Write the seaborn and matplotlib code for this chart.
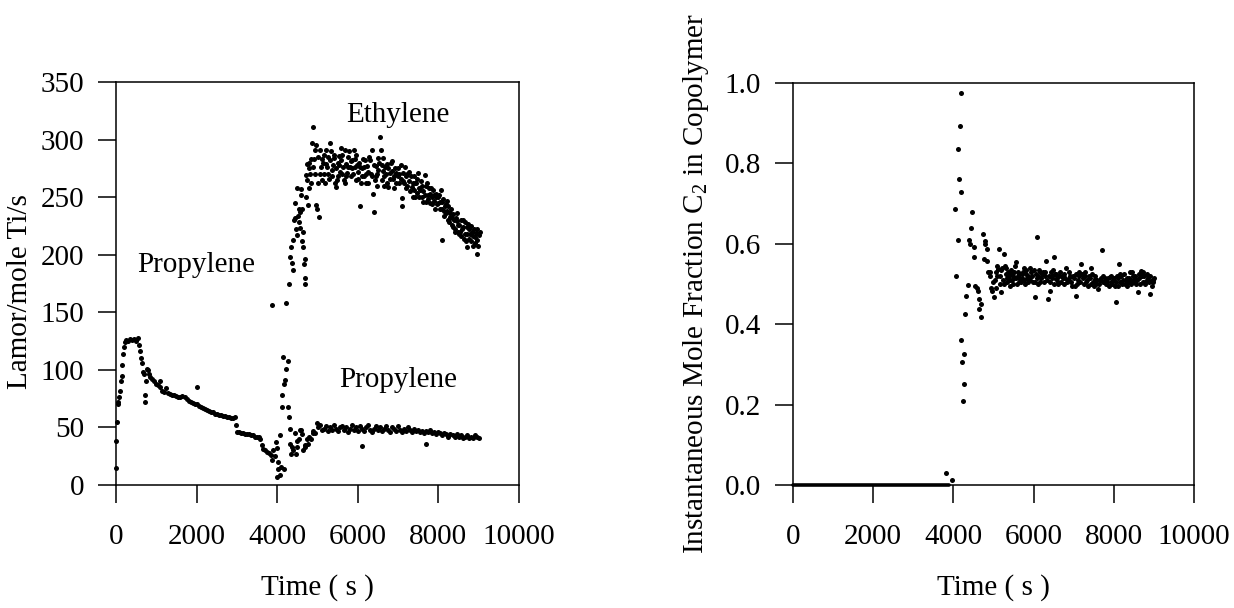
import matplotlib
matplotlib.use("Agg")
import matplotlib.pyplot as plt
import seaborn as sns
import pandas as pd

# ---------------- data ----------------
# Left panel: rate (L/mol/mole Ti/s) vs time (s)
propylene_pts = [
    (0, 15), (0, 38), (20, 55), (40, 70), (60, 72), (80, 76), (100, 82), (120, 90),
    (140, 95), (160, 104), (180, 114), (200, 120), (220, 124), (250, 126), (300, 125),
    (350, 127), (400, 126), (450, 127), (500, 125), (550, 128), (580, 122), (600, 116),
    (620, 110), (650, 106), (680, 98), (700, 96), (720, 78), (730, 72), (750, 90),
    (780, 101), (800, 100), (830, 96), (850, 94), (900, 92), (950, 90), (1000, 88),
    (1050, 87), (1080, 90), (1100, 85), (1150, 82), (1200, 81), (1250, 84), (1300, 80),
    (1350, 79), (1400, 78), (1450, 78), (1500, 77), (1550, 76), (1600, 76), (1650, 77),
    (1700, 76), (1750, 75), (1800, 73), (1850, 72), (1900, 71), (1950, 70), (2000, 85),
    (2000, 70), (2050, 69), (2100, 68), (2150, 67), (2200, 66), (2250, 65), (2300, 64),
    (2350, 63), (2400, 63), (2450, 62), (2500, 62), (2550, 61), (2600, 61), (2650, 60),
    (2700, 60), (2750, 59), (2800, 59), (2850, 58), (2900, 58), (2950, 59), (2980, 52),
    (3000, 46), (3050, 46), (3100, 45), (3150, 45), (3200, 44), (3250, 44), (3300, 44),
    (3350, 43), (3400, 43), (3450, 42), (3500, 42), (3550, 42), (3580, 40), (3620, 35),
    (3650, 31), (3700, 30), (3750, 29), (3800, 28), (3850, 26), (3880, 22),
    (3900, 30), (3950, 25), (3980, 37), (3990, 7), (4000, 32), (4020, 14), (4030, 20),
    (4060, 43), (4080, 9), (4100, 16), (4110, 78), (4120, 68), (4150, 111), (4160, 14),
    (4180, 88), (4200, 91), (4230, 101), (4260, 108), (4280, 68), (4300, 59), (4310, 49),
    (4320, 36), (4350, 27), (4370, 33), (4400, 30), (4430, 45), (4460, 27), (4480, 38),
    (4500, 33), (4530, 40), (4560, 48), (4600, 48), (4620, 44), (4650, 30), (4680, 35),
    (4700, 33), (4730, 40), (4760, 36), (4800, 42), (4850, 40), (4880, 45), (4900, 47),
    (4950, 45), (4980, 54), (5000, 50), (5050, 52), (5100, 48), (5150, 49), (5200, 51),
    (5250, 47), (5300, 50), (5350, 48), (5400, 52), (5450, 49), (5500, 47), (5550, 50),
    (5600, 51), (5650, 48), (5700, 50), (5750, 46), (5800, 49), (5850, 52), (5900, 48),
    (5950, 50), (6000, 47), (6050, 51), (6100, 49), (6100, 34), (6150, 47), (6200, 50),
    (6250, 52), (6300, 48), (6350, 46), (6400, 49), (6450, 51), (6500, 48), (6550, 50),
    (6600, 47), (6650, 49), (6700, 51), (6750, 48), (6800, 46), (6850, 50), (6900, 49),
    (6950, 47), (7000, 51), (7050, 48), (7100, 46), (7150, 49), (7200, 47), (7250, 50),
    (7300, 48), (7350, 46), (7400, 49), (7450, 47), (7500, 48), (7550, 46), (7600, 47),
    (7650, 45), (7700, 47), (7700, 36), (7750, 46), (7800, 48), (7850, 45), (7900, 46),
    (7950, 44), (8000, 46), (8050, 45), (8100, 43), (8150, 45), (8200, 44), (8250, 42),
    (8300, 44), (8350, 43), (8400, 42), (8450, 44), (8500, 42), (8550, 43), (8600, 41),
    (8650, 42), (8700, 43), (8750, 41), (8800, 42), (8850, 41), (8900, 43), (8950, 42),
    (9000, 41),
]

ethylene_pts = [
    (3860, 156), (4230, 158), (4300, 175), (4330, 198), (4350, 207), (4360, 193),
    (4380, 187), (4400, 213), (4420, 230), (4440, 232), (4450, 245), (4470, 222),
    (4490, 258), (4500, 217), (4520, 234), (4530, 228), (4540, 240), (4560, 223),
    (4570, 237), (4580, 252), (4600, 257), (4610, 240), (4620, 212), (4640, 207),
    (4650, 220), (4660, 192), (4680, 180), (4690, 196), (4700, 175), (4710, 250),
    (4720, 269), (4740, 279), (4750, 265), (4760, 243), (4780, 258), (4790, 280),
    (4800, 275), (4820, 270), (4830, 283), (4850, 262), (4860, 297), (4880, 276),
    (4900, 311), (4920, 283), (4930, 291), (4950, 270), (4960, 243), (4970, 295),
    (4980, 240), (5000, 285), (5010, 262), (5030, 233), (5050, 291), (5060, 270),
    (5080, 276), (5100, 265), (5110, 283), (5130, 280), (5150, 270), (5160, 287),
    (5180, 262), (5200, 291), (5210, 279), (5230, 276), (5250, 285), (5260, 270),
    (5280, 266), (5300, 297), (5320, 282), (5330, 290), (5350, 274), (5370, 268),
    (5380, 278), (5400, 284), (5420, 287), (5430, 262), (5450, 275), (5460, 259),
    (5480, 265), (5500, 280), (5510, 268), (5530, 286), (5540, 278), (5560, 272),
    (5580, 282), (5590, 293), (5610, 287), (5620, 270), (5640, 276), (5650, 265),
    (5670, 262), (5680, 291), (5700, 279), (5710, 268), (5730, 271), (5750, 276),
    (5760, 285), (5780, 290), (5800, 276), (5820, 281), (5830, 268), (5850, 275),
    (5860, 282), (5880, 270), (5900, 291), (5920, 283), (5930, 276), (5950, 287),
    (5960, 265), (5980, 278), (6000, 272), (6010, 266), (6030, 280), (6050, 276),
    (6060, 242), (6080, 262), (6100, 275), (6110, 268), (6130, 283), (6150, 276),
    (6160, 268), (6180, 282), (6200, 270), (6210, 262), (6230, 277), (6250, 272),
    (6260, 262), (6280, 285), (6300, 282), (6320, 270), (6340, 291), (6360, 268),
    (6380, 253), (6390, 237), (6410, 278), (6420, 265), (6440, 268), (6450, 277),
    (6470, 260), (6480, 270), (6500, 274), (6510, 284), (6530, 280), (6550, 302),
    (6570, 291), (6590, 278), (6600, 265), (6620, 284), (6630, 273), (6650, 268),
    (6660, 260), (6680, 276), (6700, 270), (6720, 262), (6730, 279), (6750, 275),
    (6760, 259), (6790, 266), (6800, 271), (6820, 280), (6840, 281), (6860, 273),
    (6870, 266), (6890, 268), (6900, 258), (6930, 275), (6950, 262), (6960, 271),
    (6990, 275), (7000, 268), (7020, 270), (7030, 262), (7060, 278), (7080, 266),
    (7090, 249), (7100, 242), (7120, 271), (7130, 264), (7150, 262), (7170, 276),
    (7190, 258), (7200, 268), (7220, 270), (7230, 260), (7260, 272), (7280, 264),
    (7300, 255), (7320, 268), (7340, 259), (7360, 262), (7370, 250), (7390, 256),
    (7400, 268), (7420, 250), (7430, 262), (7450, 262), (7460, 254), (7480, 266),
    (7500, 271), (7520, 250), (7530, 258), (7550, 256), (7560, 264), (7590, 260),
    (7600, 250), (7620, 246), (7630, 255), (7660, 252), (7670, 269), (7690, 246),
    (7700, 260), (7720, 262), (7730, 252), (7750, 248), (7760, 258), (7790, 253),
    (7800, 245), (7820, 258), (7830, 250), (7850, 244), (7870, 256), (7890, 252),
    (7900, 247), (7920, 240), (7930, 253), (7950, 250), (7960, 244), (7990, 245),
    (8000, 250), (8020, 252), (8030, 240), (8050, 246), (8060, 256), (8080, 213),
    (8090, 240), (8100, 246), (8120, 248), (8130, 238), (8150, 234), (8160, 242),
    (8180, 244), (8190, 236), (8210, 238), (8220, 247), (8240, 242), (8250, 230),
    (8270, 228), (8280, 233), (8300, 236), (8310, 240), (8330, 232), (8340, 226),
    (8360, 224), (8370, 235), (8390, 230), (8400, 222), (8420, 220), (8430, 232),
    (8450, 229), (8460, 236), (8480, 220), (8490, 226), (8510, 226), (8520, 218),
    (8540, 220), (8550, 230), (8570, 216), (8580, 222), (8600, 224), (8620, 230),
    (8630, 214), (8650, 218), (8660, 228), (8680, 212), (8700, 207), (8710, 224),
    (8720, 218), (8740, 227), (8750, 214), (8770, 222), (8780, 218), (8800, 212),
    (8810, 225), (8830, 220), (8850, 208), (8860, 216), (8880, 222), (8900, 215),
    (8920, 210), (8930, 219), (8950, 201), (8960, 222), (8970, 213), (8990, 208),
    (9000, 217), (9030, 220),
]

# Right panel: instantaneous mole fraction C2 in copolymer vs time (s)
c2_baseline = [
    (0, 0.0), (100, 0.0), (200, 0.0), (300, 0.0), (400, 0.0), (500, 0.0), (600, 0.0),
    (700, 0.0), (800, 0.0), (900, 0.0), (1000, 0.0), (1100, 0.0), (1200, 0.0),
    (1300, 0.0), (1400, 0.0), (1500, 0.0), (1600, 0.0), (1700, 0.0), (1800, 0.0),
    (1900, 0.0), (2000, 0.0), (2100, 0.0), (2200, 0.0), (2300, 0.0), (2400, 0.0),
    (2500, 0.0), (2600, 0.0), (2700, 0.0), (2800, 0.0), (2900, 0.0), (3000, 0.0),
    (3100, 0.0), (3200, 0.0), (3300, 0.0), (3400, 0.0), (3500, 0.0), (3600, 0.0),
    (3700, 0.0), (3800, 0.0), (3900, 0.0),
]

c2_pts = [
    (3810, 0.029), (3965, 0.012), (4030, 0.686), (4057, 0.521), (4115, 0.835),
    (4115, 0.610), (4140, 0.762), (4157, 0.893), (4181, 0.974), (4181, 0.729),
    (4198, 0.360), (4215, 0.306), (4240, 0.209), (4256, 0.252), (4265, 0.326),
    (4298, 0.426), (4323, 0.471), (4364, 0.498), (4389, 0.610), (4422, 0.599),
    (4447, 0.640), (4472, 0.678), (4506, 0.591), (4506, 0.566), (4547, 0.496),
    (4580, 0.490), (4614, 0.483), (4638, 0.463), (4638, 0.438), (4680, 0.417),
    (4700, 0.450), (4738, 0.624), (4755, 0.562), (4780, 0.607), (4800, 0.600),
    (4838, 0.587), (4838, 0.558), (4870, 0.530), (4905, 0.529), (4920, 0.520),
    (4940, 0.490), (4971, 0.483), (4990, 0.505), (5004, 0.467), (5030, 0.510),
    (5050, 0.490), (5060, 0.530), (5080, 0.520), (5090, 0.545), (5112, 0.537),
    (5137, 0.587), (5150, 0.500), (5170, 0.520), (5185, 0.535), (5196, 0.479),
    (5220, 0.540), (5240, 0.510), (5254, 0.574), (5265, 0.500), (5279, 0.545),
    (5300, 0.525), (5315, 0.540), (5330, 0.515), (5345, 0.505), (5362, 0.529),
    (5380, 0.520), (5404, 0.496), (5415, 0.510), (5430, 0.535), (5445, 0.525),
    (5460, 0.510), (5475, 0.500), (5487, 0.521), (5505, 0.515), (5520, 0.530),
    (5535, 0.545), (5550, 0.515), (5570, 0.554), (5585, 0.500), (5600, 0.520),
    (5615, 0.530), (5630, 0.505), (5645, 0.525), (5653, 0.512), (5680, 0.505),
    (5700, 0.525), (5720, 0.515), (5736, 0.529), (5755, 0.540), (5770, 0.510),
    (5785, 0.500), (5800, 0.535), (5820, 0.525), (5840, 0.515), (5855, 0.505),
    (5870, 0.520), (5890, 0.515), (5902, 0.541), (5920, 0.510), (5940, 0.530),
    (5960, 0.520), (5985, 0.504), (6005, 0.535), (6027, 0.467), (6040, 0.505),
    (6060, 0.525), (6075, 0.515), (6094, 0.616), (6105, 0.500), (6120, 0.520),
    (6135, 0.535), (6152, 0.529), (6170, 0.505), (6190, 0.515), (6210, 0.525),
    (6230, 0.530), (6250, 0.505), (6276, 0.521), (6295, 0.530), (6318, 0.558),
    (6335, 0.510), (6360, 0.463), (6380, 0.520), (6401, 0.483), (6415, 0.505),
    (6430, 0.530), (6450, 0.515), (6470, 0.520), (6485, 0.535), (6501, 0.566),
    (6515, 0.500), (6530, 0.525), (6550, 0.525), (6567, 0.512), (6585, 0.515),
    (6600, 0.505), (6620, 0.500), (6640, 0.520), (6660, 0.530), (6692, 0.504),
    (6710, 0.520), (6730, 0.515), (6750, 0.500), (6770, 0.525), (6790, 0.515),
    (6817, 0.541), (6840, 0.505), (6860, 0.510), (6880, 0.530), (6900, 0.517),
    (6920, 0.520), (6940, 0.505), (6960, 0.495), (6980, 0.520), (7000, 0.515),
    (7024, 0.496), (7045, 0.525), (7066, 0.471), (7085, 0.500), (7100, 0.510),
    (7120, 0.520), (7140, 0.530), (7165, 0.505), (7191, 0.550), (7210, 0.525),
    (7230, 0.515), (7250, 0.500), (7274, 0.521), (7290, 0.530), (7310, 0.505),
    (7335, 0.510), (7357, 0.496), (7380, 0.520), (7400, 0.515), (7420, 0.500),
    (7440, 0.541), (7460, 0.525), (7480, 0.505), (7500, 0.495), (7523, 0.512),
    (7540, 0.520), (7560, 0.500), (7585, 0.510), (7606, 0.488), (7630, 0.500),
    (7650, 0.510), (7675, 0.515), (7706, 0.584), (7720, 0.520), (7740, 0.505),
    (7773, 0.508), (7790, 0.515), (7810, 0.500), (7830, 0.505), (7850, 0.515),
    (7875, 0.495), (7898, 0.517), (7920, 0.520), (7940, 0.505), (7960, 0.500),
    (7980, 0.510), (8000, 0.515), (8022, 0.496), (8045, 0.505), (8064, 0.455),
    (8080, 0.520), (8100, 0.515), (8115, 0.495), (8130, 0.550), (8145, 0.525),
    (8160, 0.505), (8188, 0.521), (8210, 0.500), (8230, 0.510), (8250, 0.525),
    (8271, 0.500), (8295, 0.510), (8320, 0.515), (8340, 0.495), (8360, 0.505),
    (8380, 0.515), (8396, 0.529), (8420, 0.500), (8440, 0.510), (8460, 0.530),
    (8480, 0.520), (8500, 0.505), (8521, 0.512), (8540, 0.520), (8560, 0.500),
    (8580, 0.510), (8604, 0.479), (8620, 0.525), (8640, 0.515), (8660, 0.500),
    (8687, 0.533), (8700, 0.520), (8720, 0.505), (8740, 0.530), (8760, 0.520),
    (8780, 0.500), (8812, 0.508), (8830, 0.525), (8850, 0.515), (8870, 0.505),
    (8895, 0.475), (8915, 0.520), (8937, 0.508), (8960, 0.495), (8978, 0.504),
    (8990, 0.510), (9000, 0.515),
]

x_ticks = [0, 2000, 4000, 6000, 8000, 10000]
left_y_ticks = [0, 50, 100, 150, 200, 250, 300, 350]
right_y_ticks = [0.0, 0.2, 0.4, 0.6, 0.8, 1.0]
right_y_ticklabels = ["0.0", "0.2", "0.4", "0.6", "0.8", "1.0"]

# ---------------- style ----------------
sns.set_theme(style="white")
plt.rcParams["font.family"] = ["Liberation Serif", "DejaVu Serif"]
plt.rcParams["mathtext.fontset"] = "custom"
plt.rcParams["mathtext.rm"] = "Liberation Serif"
plt.rcParams["mathtext.it"] = "Liberation Serif:italic"
plt.rcParams["axes.edgecolor"] = "black"
plt.rcParams["axes.linewidth"] = 1.1

df_prop = pd.DataFrame(propylene_pts, columns=["t", "v"])
df_eth = pd.DataFrame(ethylene_pts, columns=["t", "v"])
df_base = pd.DataFrame(c2_baseline, columns=["t", "v"])
df_c2 = pd.DataFrame(c2_pts, columns=["t", "v"])

fig = plt.figure(figsize=(12.34, 6.08), dpi=100)
ax1 = fig.add_axes([116 / 1234, 123 / 608, 403 / 1234, 403 / 608])
ax2 = fig.add_axes([793 / 1234, 123 / 608, 401 / 1234, 402 / 608])

dot = dict(color="black", s=13, linewidth=0, clip_on=False, legend=False)
sns.scatterplot(data=df_prop, x="t", y="v", ax=ax1, **dot)
sns.scatterplot(data=df_eth, x="t", y="v", ax=ax1, **dot)
sns.lineplot(data=df_base, x="t", y="v", ax=ax2, color="black", linewidth=2.6,
             legend=False, clip_on=False)
sns.scatterplot(data=df_c2, x="t", y="v", ax=ax2, **dot)

TICK_FS = 21
for ax in (ax1, ax2):
    ax.set_xlim(0, 10000)
    ax.set_xticks(x_ticks)
    ax.set_xticklabels([str(v) for v in x_ticks])
    ax.tick_params(axis="both", which="major", direction="out", length=13, width=1.1,
                   color="black", labelsize=TICK_FS, labelcolor="black",
                   bottom=True, left=True, top=False, right=False)
    ax.tick_params(axis="x", pad=15)
    ax.tick_params(axis="y", pad=10)
    for sp in ax.spines.values():
        sp.set_visible(True)
        sp.set_color("black")
        sp.set_linewidth(1.1)
    ax.set_xlabel("Time ( s )", fontsize=21, color="black", va="top")
    ax.xaxis.set_label_coords(0.5, -0.222)

ax1.set_ylim(0, 350)
ax1.set_yticks(left_y_ticks)
ax1.set_yticklabels([str(v) for v in left_y_ticks])
ax1.set_ylabel("Lamor/mole Ti/s", fontsize=21, color="black")
ax1.yaxis.set_label_coords(-0.205, 0.48)

ax2.set_ylim(0, 1.0)
ax2.set_yticks(right_y_ticks)
ax2.set_yticklabels(right_y_ticklabels)
ax2.set_ylabel(r"Instantaneous Mole Fraction $\mathrm{C_2}$ in Copolymer", fontsize=21,
               color="black")
ax2.yaxis.set_label_coords(-0.205, 0.50)

ax1.text(2002, 185, "Propylene", fontsize=21, ha="center", va="baseline", color="black")
ax1.text(6985, 315, "Ethylene", fontsize=21, ha="center", va="baseline", color="black")
ax1.text(6998, 85, "Propylene", fontsize=21, ha="center", va="baseline", color="black")

fig.savefig("out.png", dpi=100, facecolor="white")
